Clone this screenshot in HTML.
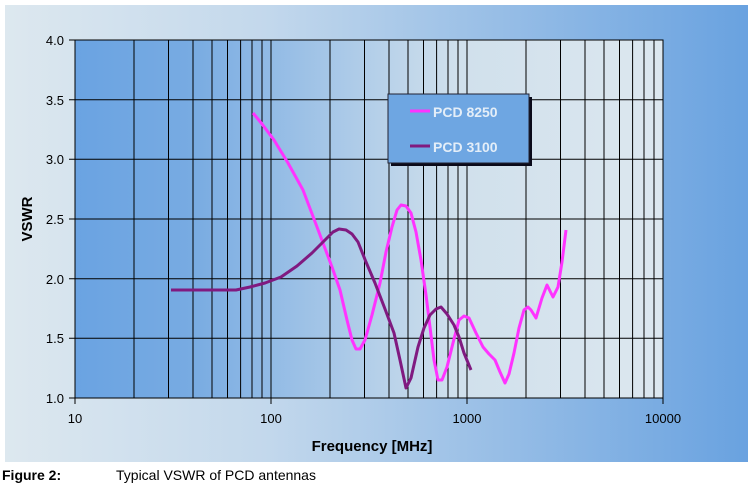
<!DOCTYPE html>
<html><head><style>
body{margin:0;background:#fff;width:751px;height:492px;overflow:hidden;font-family:"Liberation Sans",sans-serif}
</style></head><body>
<svg width="751" height="492" xmlns="http://www.w3.org/2000/svg">
<defs>
<linearGradient id="og" x1="0" x2="1" y1="0" y2="0">
<stop offset="0" stop-color="#dde8ef"/><stop offset="0.35" stop-color="#c3d8ec"/><stop offset="1" stop-color="#69a2e0"/></linearGradient>
<linearGradient id="pg" x1="0" x2="1" y1="0" y2="0">
<stop offset="0" stop-color="#6aa3e2"/><stop offset="0.2" stop-color="#78abe2"/><stop offset="0.65" stop-color="#d0e0ec"/><stop offset="1" stop-color="#dce7ef"/></linearGradient>
</defs>
<rect x="5" y="5" width="743" height="457" fill="url(#og)"/>
<rect x="75" y="40" width="588" height="358" fill="url(#pg)"/>
<g stroke="#000" stroke-width="1">
<line x1="134" y1="40" x2="134" y2="398"/><line x1="168.5" y1="40" x2="168.5" y2="398"/><line x1="193" y1="40" x2="193" y2="398"/><line x1="212" y1="40" x2="212" y2="398"/><line x1="227.5" y1="40" x2="227.5" y2="398"/><line x1="240.6" y1="40" x2="240.6" y2="398"/><line x1="252" y1="40" x2="252" y2="398"/><line x1="262" y1="40" x2="262" y2="398"/>
<line x1="271" y1="40" x2="271" y2="404"/><line x1="330" y1="40" x2="330" y2="398"/><line x1="364.5" y1="40" x2="364.5" y2="398"/><line x1="389" y1="40" x2="389" y2="398"/><line x1="408" y1="40" x2="408" y2="398"/><line x1="423.5" y1="40" x2="423.5" y2="398"/><line x1="436.6" y1="40" x2="436.6" y2="398"/><line x1="448" y1="40" x2="448" y2="398"/><line x1="458" y1="40" x2="458" y2="398"/>
<line x1="467" y1="40" x2="467" y2="404"/><line x1="526" y1="40" x2="526" y2="398"/><line x1="560.5" y1="40" x2="560.5" y2="398"/><line x1="585" y1="40" x2="585" y2="398"/><line x1="604" y1="40" x2="604" y2="398"/><line x1="619.5" y1="40" x2="619.5" y2="398"/><line x1="632.6" y1="40" x2="632.6" y2="398"/><line x1="644" y1="40" x2="644" y2="398"/><line x1="654" y1="40" x2="654" y2="398"/>
<line x1="75" y1="398" x2="75" y2="404"/><line x1="663" y1="398" x2="663" y2="404"/>
<line x1="69" y1="40" x2="663" y2="40"/><line x1="69" y1="99.7" x2="663" y2="99.7"/><line x1="69" y1="159.3" x2="663" y2="159.3"/><line x1="69" y1="219" x2="663" y2="219"/><line x1="69" y1="278.7" x2="663" y2="278.7"/><line x1="69" y1="338.3" x2="663" y2="338.3"/><line x1="69" y1="398" x2="663" y2="398"/>
</g>
<rect x="75" y="40" width="588" height="358" fill="none" stroke="#000" stroke-width="1"/>
<g font-size="13" fill="#000" text-anchor="end">
<text x="64" y="45">4.0</text><text x="64" y="105">3.5</text><text x="64" y="164">3.0</text>
<text x="64" y="224">2.5</text><text x="64" y="284">2.0</text><text x="64" y="343">1.5</text><text x="64" y="403">1.0</text>
</g>
<g font-size="13" fill="#000" text-anchor="middle">
<text x="75" y="423">10</text><text x="271" y="423">100</text><text x="467" y="423">1000</text><text x="663" y="423">10000</text>
</g>
<text x="372" y="451" font-size="15" font-weight="bold" text-anchor="middle">Frequency [MHz]</text>
<text transform="translate(32,219) rotate(-90)" font-size="15" font-weight="bold" text-anchor="middle">VSWR</text>
<polyline fill="none" stroke="#ff33ff" stroke-width="3" stroke-linejoin="round" points="253,113 262,124 274,140 288,163 303,190 317,227 332,267 340,290 347,320 352,340 356,349 360,349 365,340 372,315 380,283 386,252 392,227 397,210 401,205 406,206 411,213 416,232 421,260 426,295 430,327 434,360 438,380 442,380 447,367 453,343 459,320 464,316 469,318 476,333 483,347 489,354 495,360 500,372 505,383 509,374 514,353 519,328 524,310 528,307 531,310 536,318 542,298 547,285 553,297 558,287 562,262 566,230"/>
<polyline fill="none" stroke="#801a80" stroke-width="3" stroke-linejoin="round" points="171,290 236,290 250,287 265,283 281,277 297,266 312,253 327,238 333,232 339,229 346,230 352,234 358,242 366,262 375,283 385,309 394,333 400,360 406,388 411,378 418,347 424,328 430,315 436,309 441,307 447,314 454,325 459,337 464,353 471,370"/>
<rect x="391" y="97" width="141" height="69" fill="#0a0a1a"/>
<rect x="388" y="94" width="141" height="69" fill="#6ea6e2" stroke="#223" stroke-width="1"/>
<line x1="410" y1="111" x2="430" y2="111" stroke="#ff33ff" stroke-width="3"/>
<line x1="410" y1="146" x2="430" y2="146" stroke="#801a80" stroke-width="3"/>
<g font-size="14" font-weight="bold" fill="#e4eef8">
<text x="433" y="117">PCD 8250</text><text x="433" y="152">PCD 3100</text></g>
<text x="2" y="480" font-size="14" font-weight="bold">Figure 2:</text>
<text x="116" y="480" font-size="14">Typical VSWR of PCD antennas</text>
</svg>
</body></html>
